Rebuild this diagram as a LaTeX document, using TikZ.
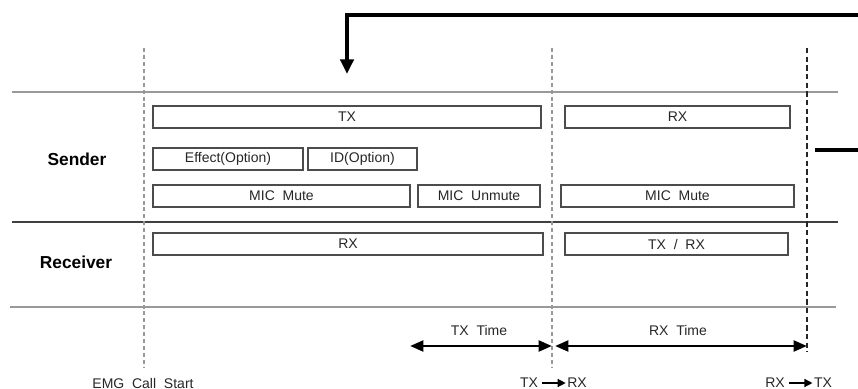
\documentclass[tikz,border=0pt]{standalone}
\usepackage{fontspec}
\setmainfont{Liberation Sans}
\usetikzlibrary{arrows.meta}
\newcommand{\mybox}[6]{\node[bx, minimum width={(#4-#2)*0.75pt}, minimum height={(#5-#3)*0.75pt}] (#1) at ({(#2+#4)/2},{(#3+#5)/2}) {#6};}
\begin{document}
\begin{tikzpicture}[x=0.75pt,y=-0.75pt,
  bx/.style={draw=black!70, line width=1.1pt, inner sep=0pt, outer sep=0pt, font=\fontsize{10.5}{12}\selectfont, text=black!85},
  lbl/.style={font=\fontsize{10.5}{12}\selectfont, text=black!85, inner sep=0pt},
  rowlbl/.style={font=\bfseries\fontsize{13}{15}\selectfont, inner sep=0pt},
  grayline/.style={draw=black!40, line width=1.8pt},
  vdash/.style={draw=black!40, line width=1.6pt, dash pattern=on 3pt off 2.2pt},
  vdashb/.style={draw=black!85, line width=0.9pt, dash pattern=on 4pt off 2.5pt},
  tarrow/.style={line width=2.2pt, {Triangle[length=10pt,width=8pt]}-{Triangle[length=10pt,width=8pt]}},
  bigarrow/.style={line width=2.6pt, -{Triangle[length=11pt,width=10pt]}}
]
\useasboundingbox (0,0) rectangle (858,389);
% guide coordinates
\coordinate (vt1) at (144,48); \coordinate (vb1) at (144,368);
\coordinate (vt2) at (552,48); \coordinate (vb2) at (552,368);
\coordinate (vt3) at (807,48); \coordinate (vb3) at (807,352);
\coordinate (hl1) at (12,92);  \coordinate (hr1) at (838,92);
\coordinate (hl2) at (12,222); \coordinate (hr2) at (838,222);
\coordinate (hl3) at (10,307); \coordinate (hr3) at (836,307);
% horizontal lines
\draw[grayline] (hl1) -- (hr1);
\draw[draw=black!75, line width=0.9pt] (hl2) -- (hr2);
\draw[grayline] (hl3) -- (hr3);
% vertical dashed lines
\draw[vdash] (vt1) -- (vb1);
\draw[vdash] (vt2) -- (vb2);
\draw[vdashb] (vt3) -- (vb3);
% top feedback arrow
\coordinate (fa) at (858,15);
\coordinate (fb) at (347,15);
\coordinate (fc) at (347,74);
\draw[bigarrow] (fa) -- (fb) -- (fc);
% right short line
\coordinate (ra) at (815,150);
\coordinate (rb) at (858,150);
\draw[line width=2.4pt] (ra) -- (rb);
% row labels
\node[rowlbl] (sender) at (77,159) {Sender};
\node[rowlbl] (receiver) at (76,262) {Receiver};
% sender boxes
\mybox{stx}{153}{106}{541}{128}{TX}
\mybox{srx}{565}{106}{790}{128}{RX}
\mybox{eff}{153}{148}{303}{170}{Effect(Option)}
\mybox{id}{308}{148}{417}{170}{ID(Option)}
\mybox{mm1}{153}{185}{410}{207}{MIC\ \ Mute}
\mybox{mu}{418}{185}{540}{207}{MIC\ \ Unmute}
\mybox{mm2}{561}{185}{794}{207}{MIC\ \ Mute}
% receiver boxes
\mybox{rrx}{153}{233}{543}{255}{RX}
\mybox{rtr}{565}{233}{788}{255}{TX\ \ /\ \ RX}
% time arrows
\coordinate (ta) at (410,346); \coordinate (tb) at (552,346);
\coordinate (rxa) at (555,346); \coordinate (rxb) at (807,346);
\draw[tarrow] (ta) -- (tb);
\draw[tarrow] (rxa) -- (rxb);
\node[lbl] (txtime) at (479,330) {TX\ \ Time};
\node[lbl] (rxtime) at (678,330) {RX\ \ Time};
% bottom labels
\node[lbl] (emg) at (143,383) {EMG\ \ Call\ \ Start};
\node[lbl] (t1) at (529,383) {TX};
\node[lbl] (r1) at (577,383) {RX};
\draw[line width=1pt, -{Triangle[length=6pt,width=6pt]}] ([xshift=3]t1.east) -- ([xshift=-1]r1.west);
\node[lbl] (r2) at (775,383) {RX};
\node[lbl] (t2) at (823,383) {TX};
\draw[line width=1pt, -{Triangle[length=6pt,width=6pt]}] ([xshift=3]r2.east) -- ([xshift=-1]t2.west);
\end{tikzpicture}
\end{document}
